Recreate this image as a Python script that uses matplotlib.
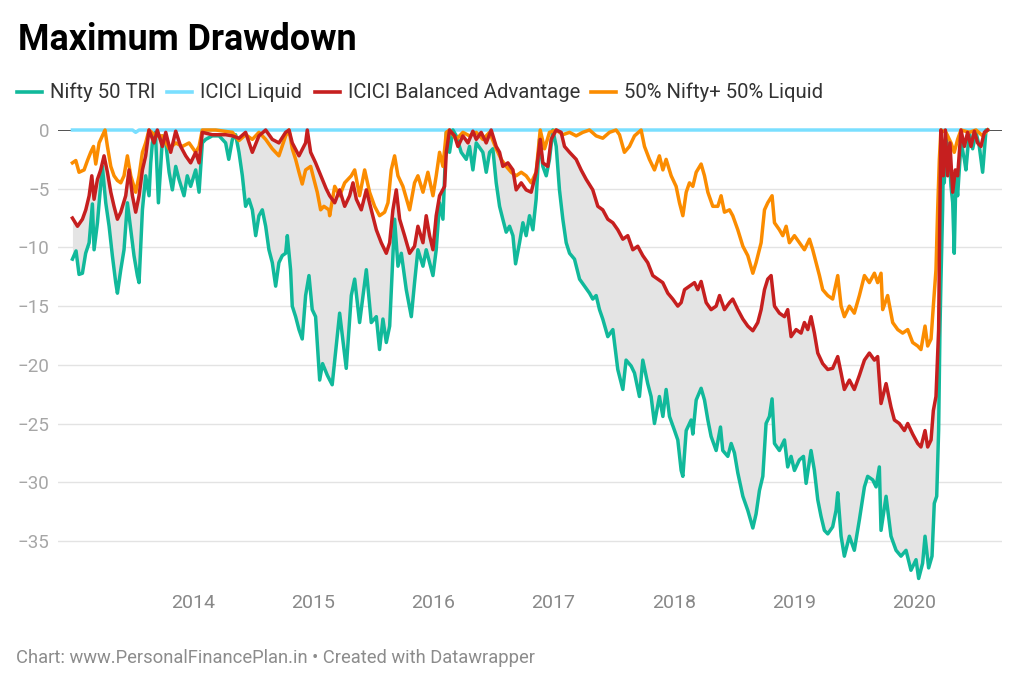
import numpy as np
import matplotlib
matplotlib.use("Agg")
import matplotlib.pyplot as plt
from matplotlib.lines import Line2D

plt.rcParams['font.family'] = ['Roboto', 'DejaVu Sans']

# ---- data (decimal year, drawdown %) ----
nifty_t = [2013.000, 2013.030, 2013.055, 2013.083, 2013.110, 2013.139, 2013.166, 2013.180, 2013.208, 2013.222,
           2013.249, 2013.277, 2013.305, 2013.332, 2013.360, 2013.374, 2013.402, 2013.429, 2013.457, 2013.485,
           2013.512, 2013.540, 2013.554, 2013.582, 2013.609, 2013.637, 2013.651, 2013.665, 2013.690, 2013.715,
           2013.750, 2013.776, 2013.804, 2013.831, 2013.859, 2013.886, 2013.928, 2013.955, 2013.983, 2014.025,
           2014.053, 2014.080, 2014.108, 2014.163, 2014.220, 2014.274, 2014.300, 2014.330, 2014.357, 2014.385,
           2014.413, 2014.440, 2014.468, 2014.496, 2014.524, 2014.551, 2014.579, 2014.607, 2014.634, 2014.662,
           2014.690, 2014.717, 2014.745, 2014.773, 2014.787, 2014.814, 2014.828, 2014.856, 2014.884, 2014.911,
           2014.939, 2014.967, 2014.994, 2015.022, 2015.056, 2015.080, 2015.120, 2015.160, 2015.222, 2015.277,
           2015.319, 2015.347, 2015.388, 2015.444, 2015.485, 2015.527, 2015.554, 2015.582, 2015.610, 2015.638,
           2015.665, 2015.679, 2015.707, 2015.735, 2015.776, 2015.818, 2015.845, 2015.873, 2015.915, 2015.942,
           2015.970, 2015.998, 2016.025, 2016.053, 2016.081, 2016.109, 2016.136, 2016.164, 2016.192, 2016.233,
           2016.275, 2016.302, 2016.330, 2016.358, 2016.413, 2016.441, 2016.469, 2016.496, 2016.524, 2016.552,
           2016.579, 2016.607, 2016.635, 2016.663, 2016.685, 2016.718, 2016.746, 2016.773, 2016.801, 2016.829,
           2016.856, 2016.884, 2016.912, 2016.940, 2016.967, 2016.995, 2017.023, 2017.050, 2017.078, 2017.106,
           2017.134, 2017.175, 2017.217, 2017.258, 2017.300, 2017.327, 2017.355, 2017.383, 2017.410, 2017.452,
           2017.494, 2017.535, 2017.577, 2017.604, 2017.646, 2017.674, 2017.715, 2017.743, 2017.784, 2017.812,
           2017.840, 2017.881, 2017.910, 2017.937, 2017.965, 2018.007, 2018.034, 2018.062, 2018.076, 2018.104,
           2018.145, 2018.159, 2018.187, 2018.228, 2018.256, 2018.284, 2018.311, 2018.353, 2018.389, 2018.408,
           2018.450, 2018.478, 2018.505, 2018.533, 2018.575, 2018.616, 2018.658, 2018.685, 2018.713, 2018.741,
           2018.768, 2018.796, 2018.818, 2018.838, 2018.879, 2018.921, 2018.948, 2018.976, 2019.004, 2019.045,
           2019.079, 2019.101, 2019.142, 2019.170, 2019.198, 2019.225, 2019.253, 2019.281, 2019.322, 2019.350,
           2019.364, 2019.392, 2019.419, 2019.461, 2019.502, 2019.544, 2019.586, 2019.613, 2019.655, 2019.683,
           2019.710, 2019.724, 2019.766, 2019.807, 2019.849, 2019.890, 2019.932, 2019.973, 2020.015, 2020.037,
           2020.070, 2020.090, 2020.120, 2020.148, 2020.167, 2020.187, 2020.203, 2020.214, 2020.222, 2020.236,
           2020.245, 2020.250, 2020.264, 2020.292, 2020.306, 2020.320, 2020.333, 2020.347, 2020.361, 2020.389,
           2020.417, 2020.430, 2020.458, 2020.486, 2020.514, 2020.541, 2020.569, 2020.597, 2020.610]
nifty_v = [-11.0, -10.3, -12.3, -12.2, -10.5, -9.6, -6.3, -10.2, -7.9, -6.2,
           -3.1, -6.2, -8.2, -10.7, -13.0, -13.9, -11.9, -10.2, -6.2, -8.5,
           -10.7, -12.4, -13.0, -6.8, -3.9, -5.6, -2.8, -1.1, -0.2, -6.2,
           -0.5, -1.1, -3.6, -5.1, -3.1, -4.2, -5.6, -3.9, -4.8, -3.4,
           -5.3, -1.1, -0.8, -0.5, -0.5, -1.1, -2.5, -0.8, -0.4, -1.9,
           -3.9, -6.5, -5.9, -6.8, -9.0, -7.3, -6.8, -8.2, -10.2, -11.3,
           -13.3, -11.3, -10.7, -10.5, -9.0, -11.9, -15.0, -15.9, -17.0, -17.8,
           -14.1, -12.4, -15.3, -15.9, -21.3, -19.9, -20.9, -21.7, -15.6, -20.3,
           -14.1, -12.7, -16.4, -11.9, -16.4, -15.9, -18.7, -16.1, -18.1, -16.7,
           -10.7, -7.6, -11.6, -10.5, -13.6, -15.9, -13.0, -10.2, -11.6, -10.2,
           -11.3, -12.4, -10.2, -6.2, -7.6, -0.2, -1.9, 0.0, -0.5, -1.9,
           -2.5, -1.4, -3.4, -1.1, -1.9, -3.6, -1.9, -1.6, -4.5, -6.5,
           -7.6, -8.7, -8.2, -9.0, -11.4, -9.6, -7.9, -9.0, -7.3, -8.5,
           -5.9, -0.8, -3.1, -3.9, -2.5, 0.0, -1.4, -5.1, -7.6, -9.6,
           -10.5, -11.0, -12.7, -13.3, -13.9, -14.4, -14.1, -15.3, -16.1, -17.6,
           -17.0, -20.4, -22.1, -19.6, -20.1, -20.7, -22.7, -19.6, -21.6, -22.7,
           -25.0, -22.7, -24.4, -22.1, -24.4, -25.6, -26.4, -29.0, -29.5, -25.6,
           -24.7, -25.9, -23.0, -22.0, -23.0, -24.7, -26.1, -27.3, -25.3, -27.3,
           -27.8, -26.7, -27.5, -29.2, -31.2, -32.4, -33.9, -32.7, -30.7, -29.5,
           -25.0, -24.4, -22.9, -26.7, -27.3, -26.4, -28.7, -27.8, -29.0, -28.1,
           -27.8, -30.1, -27.3, -29.0, -31.5, -32.9, -34.1, -34.4, -33.8, -32.4,
           -30.9, -34.6, -36.3, -34.6, -35.8, -33.2, -30.4, -29.5, -29.8, -30.4,
           -28.7, -34.1, -31.2, -34.6, -35.8, -36.3, -35.8, -37.5, -36.6, -38.2,
           -36.9, -34.6, -37.3, -36.3, -31.8, -31.2, -25.6, -17.0, -13.0, -6.8,
           -1.0, -4.5, -0.5, -2.5, -4.8, -6.2, -10.5, -3.9, -5.6, -1.1,
           -2.5, -3.4, -0.2, -1.6, -0.2, -1.4, -3.6, 0.0, 0.0]

liquid_t = [2013.000, 2013.500, 2013.526, 2013.554, 2020.610]
liquid_v = [0.0, 0.0, -0.2, 0.0, 0.0]

bal_t = [2013.000, 2013.042, 2013.083, 2013.111, 2013.139, 2013.161, 2013.180, 2013.208, 2013.235, 2013.263,
         2013.291, 2013.319, 2013.346, 2013.374, 2013.402, 2013.443, 2013.471, 2013.499, 2013.526, 2013.554,
         2013.582, 2013.609, 2013.637, 2013.679, 2013.706, 2013.748, 2013.776, 2013.817, 2013.859, 2013.900,
         2013.942, 2013.983, 2014.025, 2014.053, 2014.080, 2014.163, 2014.274, 2014.330, 2014.385, 2014.440,
         2014.496, 2014.551, 2014.607, 2014.662, 2014.717, 2014.773, 2014.801, 2014.828, 2014.884, 2014.939,
         2014.953, 2014.981, 2015.022, 2015.078, 2015.110, 2015.139, 2015.181, 2015.222, 2015.264, 2015.305,
         2015.333, 2015.361, 2015.402, 2015.444, 2015.485, 2015.527, 2015.568, 2015.610, 2015.638, 2015.665,
         2015.693, 2015.721, 2015.762, 2015.804, 2015.845, 2015.873, 2015.915, 2015.942, 2015.970, 2015.998,
         2016.025, 2016.053, 2016.095, 2016.109, 2016.136, 2016.178, 2016.206, 2016.247, 2016.289, 2016.330,
         2016.358, 2016.399, 2016.441, 2016.482, 2016.524, 2016.552, 2016.579, 2016.621, 2016.663, 2016.690,
         2016.732, 2016.773, 2016.815, 2016.856, 2016.890, 2016.912, 2016.953, 2016.981, 2017.023, 2017.064,
         2017.092, 2017.134, 2017.189, 2017.230, 2017.272, 2017.327, 2017.369, 2017.410, 2017.452, 2017.494,
         2017.535, 2017.577, 2017.618, 2017.660, 2017.701, 2017.743, 2017.784, 2017.826, 2017.868, 2017.909,
         2017.951, 2017.992, 2018.034, 2018.062, 2018.090, 2018.131, 2018.173, 2018.200, 2018.228, 2018.270,
         2018.311, 2018.353, 2018.381, 2018.422, 2018.464, 2018.491, 2018.533, 2018.575, 2018.616, 2018.658,
         2018.699, 2018.727, 2018.755, 2018.782, 2018.810, 2018.838, 2018.879, 2018.921, 2018.948, 2018.976,
         2019.018, 2019.059, 2019.087, 2019.115, 2019.142, 2019.170, 2019.198, 2019.239, 2019.281, 2019.322,
         2019.364, 2019.392, 2019.419, 2019.461, 2019.502, 2019.544, 2019.586, 2019.627, 2019.669, 2019.696,
         2019.724, 2019.766, 2019.807, 2019.835, 2019.876, 2019.918, 2019.946, 2019.987, 2020.029, 2020.056,
         2020.090, 2020.112, 2020.140, 2020.159, 2020.181, 2020.203, 2020.212, 2020.222, 2020.242, 2020.259,
         2020.278, 2020.297, 2020.320, 2020.342, 2020.361, 2020.389, 2020.417, 2020.444, 2020.472, 2020.500,
         2020.527, 2020.555, 2020.583, 2020.610]
bal_v = [-7.5, -8.2, -7.6, -6.8, -5.6, -3.9, -5.9, -4.2, -3.4, -2.2,
         -3.6, -5.3, -6.5, -7.6, -7.0, -5.6, -3.4, -5.6, -7.0, -5.6,
         -3.4, -2.2, 0.0, -1.1, 0.0, -1.4, -0.2, -1.9, -0.1, -1.4,
         -2.2, -2.8, -1.9, -2.8, -0.2, -0.4, -0.4, -0.5, -0.7, -0.2,
         -1.9, -0.5, 0.0, -0.8, -1.1, -0.2, 0.0, -1.1, -2.2, -1.1,
         0.0, -1.9, -2.8, -4.2, -5.0, -5.6, -6.2, -5.1, -6.5, -5.6,
         -4.5, -5.9, -6.8, -5.1, -6.8, -8.5, -9.6, -10.5, -9.6, -6.8,
         -5.1, -7.6, -9.0, -10.5, -9.9, -8.2, -9.6, -7.3, -9.0, -10.2,
         -7.3, -5.6, -4.8, -1.9, 0.0, -0.5, -1.4, -0.5, -1.1, -0.1,
         -0.8, -0.2, -1.1, 0.0, -1.4, -1.9, -3.1, -2.8, -3.4, -5.1,
         -4.5, -5.1, -5.3, -3.6, -0.8, -2.8, -3.1, -0.8, 0.0, -0.2,
         -1.4, -1.9, -2.5, -3.4, -4.2, -5.1, -6.5, -6.8, -7.6, -7.9,
         -8.5, -9.3, -9.0, -10.2, -9.9, -10.7, -11.3, -12.4, -12.7, -13.0,
         -13.9, -14.4, -15.0, -14.7, -13.6, -13.3, -13.0, -13.6, -12.9, -14.7,
         -15.3, -15.0, -14.1, -15.3, -14.7, -14.4, -15.3, -16.1, -16.7, -17.1,
         -16.4, -15.3, -13.6, -12.7, -12.4, -15.0, -15.6, -15.9, -15.3, -17.6,
         -17.0, -17.3, -16.4, -17.0, -15.9, -17.3, -19.0, -19.9, -20.4, -20.3,
         -19.3, -20.7, -22.1, -21.3, -22.1, -20.9, -19.6, -19.0, -19.6, -19.3,
         -23.3, -21.6, -23.6, -24.7, -25.0, -25.6, -25.0, -25.9, -26.7, -27.0,
         -25.6, -27.0, -26.4, -23.9, -22.7, -17.0, -8.0, 0.0, -3.9, 0.0,
         -3.9, -1.1, -5.3, -3.4, -3.9, 0.0, -1.4, -0.2, -1.4, -0.1,
         -1.1, -1.4, -0.2, 0.0]

mix_t = [2013.000, 2013.028, 2013.055, 2013.097, 2013.125, 2013.152, 2013.175, 2013.194, 2013.222, 2013.249,
         2013.271, 2013.291, 2013.319, 2013.346, 2013.374, 2013.402, 2013.429, 2013.457, 2013.485, 2013.526,
         2013.554, 2013.582, 2013.609, 2013.637, 2013.693, 2013.748, 2013.803, 2013.859, 2013.914, 2013.970,
         2014.025, 2014.053, 2014.080, 2014.191, 2014.330, 2014.385, 2014.440, 2014.496, 2014.551, 2014.607,
         2014.662, 2014.717, 2014.773, 2014.801, 2014.828, 2014.856, 2014.884, 2014.911, 2014.939, 2014.981,
         2015.008, 2015.036, 2015.064, 2015.091, 2015.133, 2015.139, 2015.181, 2015.222, 2015.264, 2015.319,
         2015.347, 2015.388, 2015.430, 2015.471, 2015.513, 2015.554, 2015.596, 2015.624, 2015.651, 2015.679,
         2015.707, 2015.748, 2015.804, 2015.845, 2015.873, 2015.915, 2015.956, 2015.998, 2016.025, 2016.053,
         2016.081, 2016.109, 2016.136, 2016.192, 2016.247, 2016.302, 2016.358, 2016.413, 2016.469, 2016.524,
         2016.566, 2016.607, 2016.649, 2016.690, 2016.732, 2016.773, 2016.815, 2016.856, 2016.890, 2016.926,
         2016.967, 2017.023, 2017.078, 2017.134, 2017.189, 2017.244, 2017.300, 2017.355, 2017.410, 2017.466,
         2017.521, 2017.549, 2017.590, 2017.632, 2017.674, 2017.729, 2017.757, 2017.798, 2017.840, 2017.881,
         2017.910, 2017.937, 2017.979, 2018.020, 2018.048, 2018.076, 2018.104, 2018.131, 2018.159, 2018.187,
         2018.228, 2018.256, 2018.284, 2018.325, 2018.367, 2018.394, 2018.422, 2018.464, 2018.491, 2018.533,
         2018.575, 2018.616, 2018.658, 2018.685, 2018.727, 2018.755, 2018.782, 2018.818, 2018.838, 2018.879,
         2018.907, 2018.935, 2018.962, 2019.004, 2019.045, 2019.087, 2019.129, 2019.156, 2019.184, 2019.212,
         2019.239, 2019.281, 2019.322, 2019.364, 2019.392, 2019.419, 2019.461, 2019.502, 2019.544, 2019.586,
         2019.627, 2019.669, 2019.696, 2019.724, 2019.738, 2019.779, 2019.821, 2019.863, 2019.904, 2019.946,
         2019.987, 2020.029, 2020.056, 2020.090, 2020.112, 2020.140, 2020.159, 2020.181, 2020.195, 2020.209,
         2020.222, 2020.264, 2020.306, 2020.333, 2020.361, 2020.389, 2020.458, 2020.514, 2020.569, 2020.610]
mix_v = [-2.8, -2.6, -3.6, -3.4, -2.6, -1.9, -1.4, -2.9, -1.1, -0.5,
         0.0, -1.4, -3.1, -3.9, -4.3, -4.5, -3.9, -2.2, -3.9, -5.3,
         -3.9, -1.9, -1.1, 0.0, -0.5, -0.5, -1.6, -1.1, -1.4, -1.1,
         -1.9, -1.4, 0.0, 0.0, -0.2, -0.9, -0.4, -0.8, -0.2, -0.8,
         -1.6, -2.2, -0.5, 0.0, -1.6, -2.5, -3.6, -4.6, -3.4, -3.1,
         -4.2, -5.3, -6.8, -6.5, -6.8, -7.3, -4.8, -5.6, -4.5, -3.9,
         -3.4, -5.6, -3.4, -5.3, -6.5, -7.3, -7.0, -6.2, -3.4, -2.2,
         -3.9, -4.8, -6.8, -4.5, -3.9, -5.3, -3.6, -5.6, -3.9, -1.9,
         -3.1, -0.2, 0.0, -0.8, -0.2, -0.5, -0.2, -0.8, -0.2, -1.6,
         -2.5, -3.1, -3.6, -3.9, -3.6, -3.9, -4.5, -3.6, 0.0, -1.6,
         -0.2, 0.0, -0.4, -0.2, -0.5, -0.2, 0.0, -0.5, -0.7, -0.2,
         0.0, -0.4, -1.9, -1.4, -0.5, 0.0, -1.4, -2.5, -3.4, -2.2,
         -3.4, -2.5, -3.9, -4.8, -6.2, -7.3, -5.3, -4.5, -4.8, -3.6,
         -2.9, -3.9, -5.3, -6.5, -6.5, -5.6, -7.0, -6.8, -7.3, -8.5,
         -9.9, -10.7, -12.2, -11.3, -9.6, -6.8, -6.2, -5.6, -7.9, -8.5,
         -9.0, -8.2, -9.6, -9.0, -9.6, -10.2, -9.3, -10.2, -11.3, -12.4,
         -13.6, -14.1, -14.4, -12.4, -15.0, -15.9, -15.0, -15.6, -14.1, -12.4,
         -13.0, -12.2, -13.0, -12.2, -15.3, -14.1, -16.4, -17.0, -17.3, -17.0,
         -18.1, -18.4, -18.7, -16.7, -18.4, -17.8, -15.0, -11.9, -6.8, -2.5,
         0.0, -0.2, -1.1, -1.9, -0.8, 0.0, -0.2, 0.0, -0.5, 0.0]

series_names = ['Nifty 50 TRI', 'ICICI Liquid', 'ICICI Balanced Advantage', '50% Nifty+ 50% Liquid']
series_colors = ['#11b99b', '#7adfff', '#c61f1f', '#fb8c00']
year_ticks = [2014, 2015, 2016, 2017, 2018, 2019, 2020]
value_ticks = [0, -5, -10, -15, -20, -25, -30, -35]

W, H = 1024, 694
fig = plt.figure(figsize=(W / 100, H / 100), dpi=100)
ax = fig.add_axes([58 / W, 1 - 582 / H, (1002 - 58) / W, (582 - 130) / H])

# shaded gap between Nifty and Balanced Advantage
grid = np.union1d(nifty_t, bal_t)
ax.fill_between(grid, np.interp(grid, nifty_t, nifty_v), np.interp(grid, bal_t, bal_v),
                color='#e4e4e4', lw=0, zorder=1)

for v in value_ticks:
    ax.axhline(v, color='#333333' if v == 0 else '#e3e3e3', lw=1.2 if v == 0 else 1.0, zorder=0.5)

lw = 2.5
ax.plot(liquid_t, liquid_v, color=series_colors[1], lw=lw, zorder=2, clip_on=False, solid_joinstyle='round')
ax.plot(nifty_t, nifty_v, color=series_colors[0], lw=lw, zorder=3, clip_on=False, solid_joinstyle='round')
ax.plot(mix_t, mix_v, color=series_colors[3], lw=lw, zorder=4, clip_on=False, solid_joinstyle='round')
ax.plot(bal_t, bal_v, color=series_colors[2], lw=lw, zorder=5, clip_on=False, solid_joinstyle='round')

ax.set_xlim(2012.88, 2020.73)
ax.set_ylim(-38.5, 0)
ax.set_xticks(year_ticks)
ax.set_xticklabels([str(y) for y in year_ticks])
ax.set_yticks(value_ticks)
ax.set_yticklabels(['0' if v == 0 else '\u2212' + str(-v) for v in value_ticks])
ax.tick_params(axis='x', length=0, pad=9, labelsize=14, labelcolor='#888888')
ax.tick_params(axis='y', length=0, pad=6, labelsize=13.5, labelcolor='#a6a6a6')
for s in ax.spines.values():
    s.set_visible(False)

# title, legend, footer
fig.text(18 / W, 1 - 50 / H, 'Maximum Drawdown', fontsize=25.8, fontweight='bold', color='#000000', va='baseline')
leg_x = [17, 167, 315, 591]
for x0, name, col in zip(leg_x, series_names, series_colors):
    fig.add_artist(Line2D([x0 / W, (x0 + 25) / W], [1 - 92 / H, 1 - 92 / H], color=col, lw=2.6,
                          transform=fig.transFigure))
    fig.text((x0 + 33) / W, 1 - 92 / H, name, fontsize=14.6, color='#333333', va='center')

fig.text(16 / W, 1 - 658 / H, 'Chart: www.PersonalFinancePlan.in \u2022 Created with Datawrapper',
         fontsize=13.2, color='#8c8c8c', va='center')

fig.savefig('out.png', dpi=100)
